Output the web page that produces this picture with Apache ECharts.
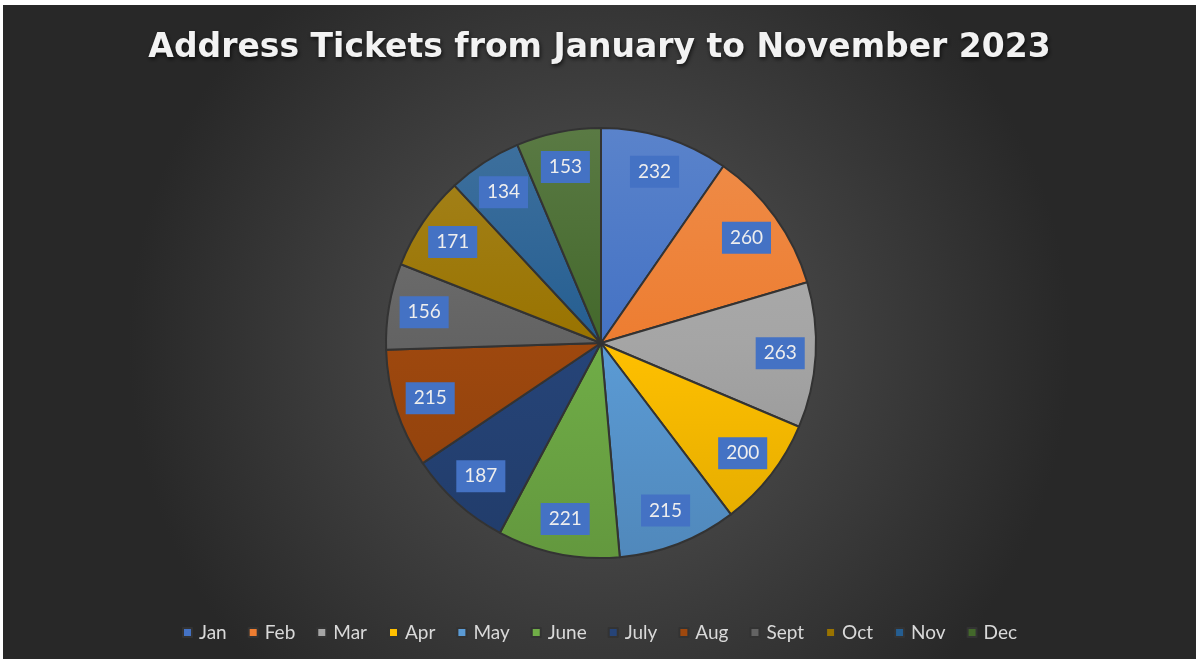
<!DOCTYPE html>
<html>
<head>
<meta charset="utf-8">
<script src="https://cdn.jsdelivr.net/npm/echarts@6/dist/echarts.min.js"></script>
<style>
  html, body { margin: 0; padding: 0; background: #ffffff; width: 1196px; height: 662px; overflow: hidden; }
  #chart { position: absolute; left: 3px; top: 5px; width: 1193px; height: 654px; }
</style>
</head>
<body>
<div id="chart"></div>
<script>
const titleText = 'Address Tickets from January to November 2023';
const categories = ['Jan', 'Feb', 'Mar', 'Apr', 'May', 'June', 'July', 'Aug', 'Sept', 'Oct', 'Nov', 'Dec'];
const ticketValues = [232, 260, 263, 200, 215, 221, 187, 215, 156, 171, 134, 153];
const sliceColors = ['#4472C4', '#ED7D31', '#A5A5A5', '#FFC000', '#5B9BD5', '#70AD47',
                     '#264478', '#9E480E', '#636363', '#997300', '#255E91', '#43682B'];

function mix(hex, target, t) {
  const n = parseInt(hex.slice(1), 16);
  const r = (n >> 16) & 255, g = (n >> 8) & 255, b = n & 255;
  const m = c => Math.round(c + (target - c) * t);
  return 'rgb(' + m(r) + ',' + m(g) + ',' + m(b) + ')';
}

const cx = 598, cy = 338, R = 215;

const chart = echarts.init(document.getElementById('chart'), null, { renderer: 'canvas' });

const mainData = categories.map((name, i) => ({
  name: name,
  value: ticketValues[i],
  itemStyle: {
    color: {
      type: 'linear', x: 0, y: cy - R, x2: 0, y2: cy + R, global: true,
      colorStops: [
        { offset: 0, color: mix(sliceColors[i], 255, 0.12) },
        { offset: 0.5, color: sliceColors[i] },
        { offset: 1, color: mix(sliceColors[i], 0, 0.12) }
      ]
    }
  }
}));

const labelData = categories.map((name, i) => ({ name: name, value: ticketValues[i] }));

chart.setOption({
  backgroundColor: {
    type: 'radial', x: 0.5, y: 0.52, r: 0.72,
    colorStops: [
      { offset: 0, color: '#575757' },
      { offset: 1, color: '#282828' }
    ]
  },
  animation: false,
  title: {
    text: titleText,
    left: 'center',
    top: 22,
    textStyle: {
      color: '#f2f2f2',
      fontFamily: 'DejaVu Sans',
      fontWeight: 'bold',
      fontSize: 33,
      textShadowColor: 'rgba(0,0,0,0.7)',
      textShadowBlur: 4,
      textShadowOffsetX: 1,
      textShadowOffsetY: 2
    }
  },
  legend: {
    bottom: 12,
    left: 'center',
    icon: 'rect',
    itemWidth: 9,
    itemHeight: 9,
    itemGap: 21,
    selectedMode: false,
    textStyle: { color: '#d9d9d9', fontSize: 19, fontFamily: 'Lato', padding: [0, 0, 0, 2] },
    data: categories.map((name, i) => ({ name: name, itemStyle: { color: sliceColors[i] } }))
  },
  series: [
    {
      type: 'pie',
      center: [cx, cy],
      radius: [0, R],
      startAngle: 90,
      clockwise: true,
      silent: true,
      label: { show: false },
      labelLine: { show: false },
      itemStyle: { borderColor: '#333333', borderWidth: 2 },
      emphasis: { disabled: true },
      data: mainData
    },
    {
      type: 'pie',
      center: [cx, cy],
      radius: [138, R],
      startAngle: 90,
      clockwise: true,
      silent: true,
      itemStyle: { color: 'rgba(0,0,0,0)', borderWidth: 0 },
      emphasis: { disabled: true },
      labelLine: { show: false },
      label: {
        show: true,
        position: 'inside',
        formatter: '{c}',
        color: '#eeeeee',
        fontFamily: 'Lato',
        fontSize: 19,
        backgroundColor: '#4472C4',
        padding: [7, 8, 6, 8]
      },
      data: labelData
    }
  ]
});
</script>
</body>
</html>
